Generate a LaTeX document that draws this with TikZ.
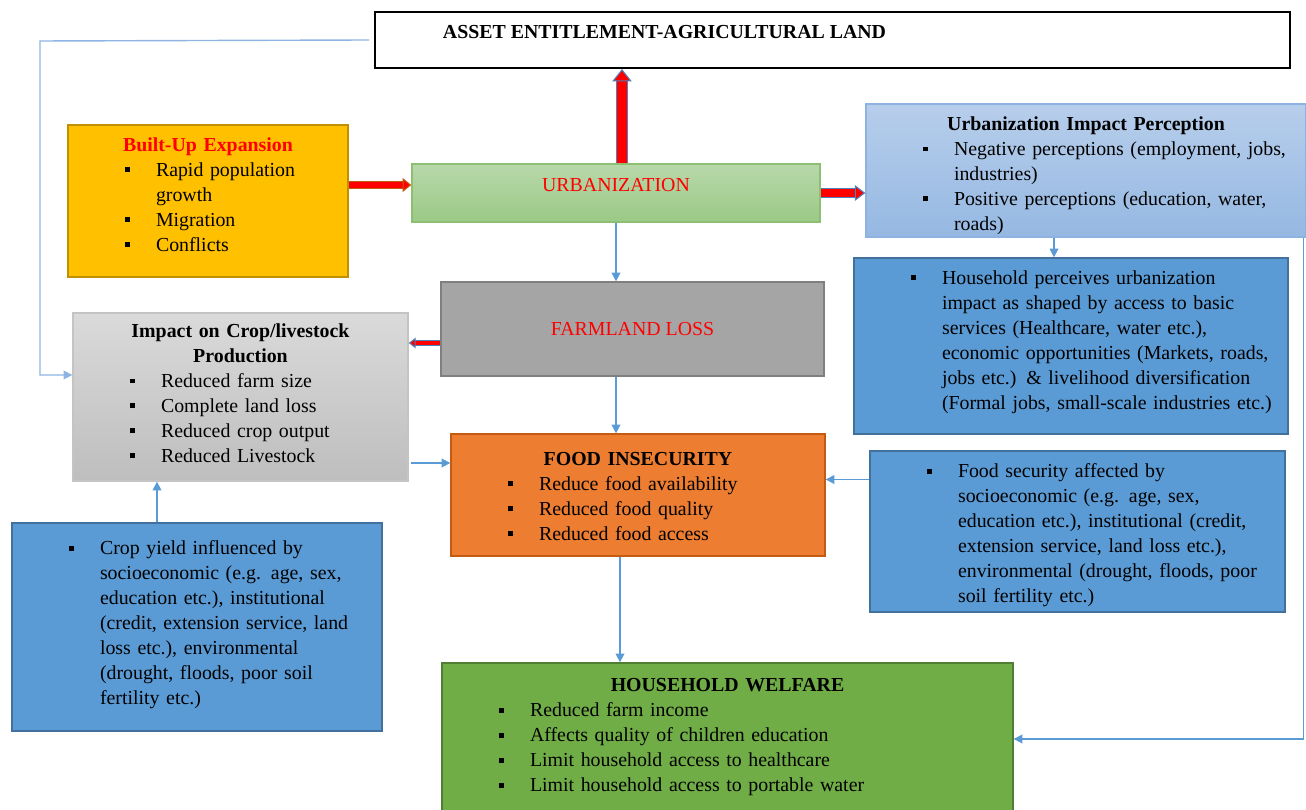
\documentclass[tikz,border=0pt]{standalone}
\usepackage{fontspec}
\setmainfont{Liberation Serif}
\usepackage{array}
\usetikzlibrary{arrows.meta}

\newcommand{\bsq}{\rule[2.4pt]{2.8pt}{2.8pt}}
\newcommand{\ttl}[1]{{\centering\textbf{#1}\par}}
\newcommand{\blist}[1]{\par\noindent\hspace*{1.14cm}\begin{tabular}[t]{@{}p{0.62cm}@{}l@{}}#1\end{tabular}\par}
\newcommand{\pushup}[1]{\par\kern#1\nointerlineskip\hbox{}}

\begin{document}
\begin{tikzpicture}[x=0.02cm, y=-0.02cm,
  txt/.style={inner sep=0pt, font=\fontsize{11.3}{14.2}\selectfont},
  lst/.style={txt, align=left, line width=0.8pt},
  flow/.style={draw=ln, line width=0.9pt, -{Triangle[length=5pt,width=5pt]}},
  redarr/.style n args={4}{draw=red, line width=#1,
    -{Triangle[length=#2,width=#3,fill=red,color=#4,line width=0.6pt]},
    preaction={draw=#4, line width=#1+1.2pt, -, shorten >=#2-1pt}}]

\definecolor{c1}{HTML}{FFC000}
\definecolor{c1d}{HTML}{BF9000}
\definecolor{c2a}{HTML}{B8D8AA}
\definecolor{c2b}{HTML}{9BC986}
\definecolor{c2d}{HTML}{8CBF72}
\definecolor{c3a}{HTML}{B7CEEB}
\definecolor{c3b}{HTML}{95B8E2}
\definecolor{c3d}{HTML}{8FB3E0}
\definecolor{c4}{HTML}{5B9BD5}
\definecolor{c4d}{HTML}{41719C}
\definecolor{c5}{HTML}{A5A5A5}
\definecolor{c5d}{HTML}{7F7F7F}
\definecolor{c6a}{HTML}{DADADA}
\definecolor{c6b}{HTML}{BEBEBE}
\definecolor{c6d}{HTML}{C4C4C4}
\definecolor{c7}{HTML}{ED7D31}
\definecolor{c7d}{HTML}{C55A11}
\definecolor{c8}{HTML}{70AD47}
\definecolor{c8d}{HTML}{507E32}
\definecolor{ln}{HTML}{5B9BD5}
\definecolor{lnl}{HTML}{8EB4E3}
\definecolor{ro}{HTML}{C55A11}
\definecolor{rb}{HTML}{4F81BD}

\useasboundingbox (0,0) rectangle (1306,810);

\node[txt, draw=black, line width=1.2pt, minimum width=18.3cm, minimum height=1.12cm] (asset) at (832.5,40)
  {\raisebox{0.16cm}[\height][\depth]{\textbf{ASSET ENTITLEMENT-AGRICULTURAL LAND}}\hspace*{6.72cm}};

\node[lst, text width=5.6cm, minimum height=3.04cm, fill=c1, draw=c1d] (built) at (208,201)
  {\ttl{\textcolor{red}{Built-Up Expansion}}
   \blist{\bsq & Rapid population\\ & growth\\ \bsq & Migration\\ \bsq & Conflicts}\pushup{0.12cm}};

\node[txt, minimum width=8.16cm, minimum height=1.16cm, top color=c2a, bottom color=c2b, draw=c2d, line width=0.8pt] (urb) at (616,193)
  {\raisebox{0.16cm}[\height][\depth]{\textcolor{red}{URBANIZATION}}};

\node[lst, text width=8.8cm, minimum height=2.66cm, top color=c3a, bottom color=c3b, draw=c3d] (percep) at (1086,170.5)
  {\ttl{Urbanization Impact Perception}
   \blist{\bsq & Negative perceptions (employment, jobs,\\ & industries)\\
          \bsq & Positive perceptions (education, water,\\ & roads)}\pushup{-0.28cm}};

\node[lst, text width=8.68cm, minimum height=3.52cm, fill=c4, draw=c4d] (house) at (1071,346)
  {\blist{\bsq & Household perceives urbanization\\ & impact as shaped by access to basic\\
          & services (Healthcare, water etc.),\\ & economic opportunities (Markets, roads,\\
          & jobs etc.) \& livelihood diversification\\ & (Formal jobs, small-scale industries etc.)}\pushup{0.32cm}};

\node[txt, minimum width=7.66cm, minimum height=1.88cm, fill=c5, draw=c5d, line width=0.8pt] (farm) at (632.5,329)
  {\textcolor{red}{FARMLAND LOSS}};

\node[lst, text width=6.7cm, minimum height=3.36cm, top color=c6a, bottom color=c6b, draw=c6d] (impact) at (240.5,397)
  {\ttl{Impact on Crop/livestock\\Production}
   \blist{\bsq & Reduced farm size\\ \bsq & Complete land loss\\ \bsq & Reduced crop output\\ \bsq & Reduced Livestock}};

\node[lst, text width=7.48cm, minimum height=2.44cm, fill=c7, draw=c7d] (food) at (638,495)
  {\ttl{FOOD INSECURITY}
   \blist{\bsq & Reduce food availability\\ \bsq & Reduced food quality\\ \bsq & Reduced food access}\pushup{-0.2cm}};

\node[lst, text width=8.3cm, minimum height=3.22cm, fill=c4, draw=c4d] (foodsec) at (1077.5,531.5)
  {\blist{\bsq & Food security affected by\\ & socioeconomic (e.g. age, sex,\\
          & education etc.), institutional (credit,\\ & extension service, land loss etc.),\\
          & environmental (drought, floods, poor\\ & soil fertility etc.)}};

\node[lst, text width=7.4cm, minimum height=4.16cm, fill=c4, draw=c4d] (crop) at (197,627)
  {\blist{\bsq & Crop yield influenced by\\ & socioeconomic (e.g. age, sex,\\
          & education etc.), institutional\\ & (credit, extension service, land\\
          & loss etc.), environmental\\ & (drought, floods, poor soil\\ & fertility etc.)}\pushup{0.24cm}};

\node[lst, text width=11.42cm, minimum height=3.04cm, fill=c8, draw=c8d] (welf) at (727.5,739)
  {\ttl{HOUSEHOLD WELFARE}
   \blist{\bsq & Reduced farm income\\ \bsq & Affects quality of children education\\
          \bsq & Limit household access to healthcare\\ \bsq & Limit household access to portable water}};

\coordinate (lft) at (40,41);
\coordinate (be) at ([yshift=0.32cm]built.east);
\coordinate (ut) at ([xshift=0.12cm]urb.north);
\coordinate (fw) at ([yshift=-0.28cm]farm.west);
\coordinate (ie) at ([xshift=0.04cm,yshift=-1.32cm]impact.east);
\coordinate (fs) at ([yshift=1.04cm]foodsec.west);
\coordinate (ps) at ([xshift=-0.64cm]percep.south);
\coordinate (cn) at ([xshift=-0.8cm]crop.north);
\coordinate (fd) at ([xshift=-0.36cm]food.south);
\coordinate (rt) at ([xshift=-0.06cm]percep.south east);

\draw[redarr={3.5pt}{5pt}{8pt}{ro}] (built.east |- be) -- (urb.west |- be);
\draw[redarr={5.5pt}{7pt}{11pt}{rb}] (ut) -- (ut |- asset.south);
\draw[redarr={4pt}{6pt}{9pt}{rb}] (urb.east) -- (percep.west |- urb.east);
\draw[redarr={2pt}{4pt}{6pt}{rb}] (fw) -- (impact.east |- fw);

\draw[draw=lnl, line width=0.8pt, -{Triangle[length=5pt,width=5pt]}] ([xshift=-0.1cm]asset.west) -- (lft) |- ([yshift=0.44cm]impact.west);
\draw[flow] (urb.south) -- (urb.south |- farm.north);
\draw[flow] (urb.south |- farm.south) -- (urb.south |- food.north);
\draw[flow] (ie) -- (food.west |- ie);
\draw[flow] (fs) -- (food.east |- fs);
\draw[flow] (ps) -- (ps |- house.north);
\draw[flow] (cn) -- (cn |- impact.south);
\draw[flow] (fd) -- (fd |- welf.north);
\draw[flow] (rt) |- (welf.east);

\end{tikzpicture}
\end{document}
